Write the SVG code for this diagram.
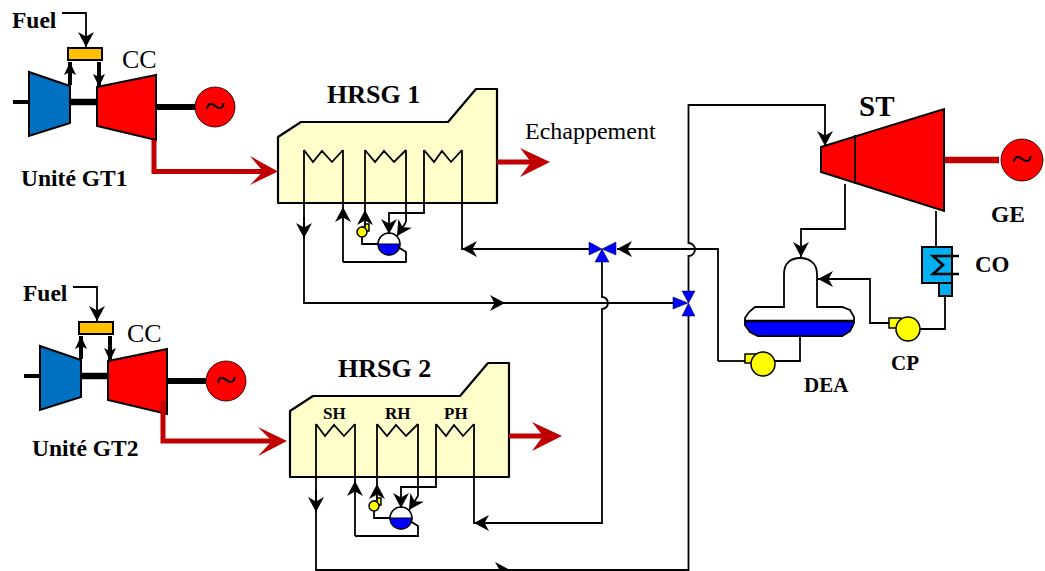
<svg xmlns="http://www.w3.org/2000/svg" width="1045" height="571" viewBox="0 0 1045 571">
<style>
.s{font-family:"Liberation Serif","Times New Roman",serif;fill:#000}
.b{font-weight:bold}
.p{fill:none;stroke:#000;stroke-width:1.8}
.o{stroke:#000;stroke-width:2;stroke-linejoin:miter}
.t{stroke:#000;stroke-width:1.5}
.red{fill:none;stroke:#c00000;stroke-width:5}
.a{marker-end:url(#ah)}
.th{fill:none;stroke:#000;stroke-width:4;marker-end:url(#as)}
.gen{fill:#f00;stroke:#000;stroke-width:.8}
.hr{fill:#ffffcc;stroke:#000;stroke-width:2.2;stroke-linejoin:round}
.tilde{font-size:38px;text-anchor:middle}
</style>
<defs>
<marker id="ah" markerUnits="userSpaceOnUse" markerWidth="18" markerHeight="18" refX="15" refY="9" orient="auto" overflow="visible"><path d="M0,1L15,9L0,17L4.500,9Z" fill="#000"/></marker>
<marker id="as" markerUnits="userSpaceOnUse" markerWidth="14" markerHeight="12" refX="13" refY="6" orient="auto" overflow="visible"><path d="M0,0L13,6L0,12L3,6Z" fill="#000"/></marker>
</defs>

<rect width="1045" height="571" fill="#fff"/>

<g id="gt1">
<path d="M13,102H29" stroke="#000" stroke-width="4"/>
<path d="M70,102H97" stroke="#000" stroke-width="6.5"/>
<path d="M156,107H195" stroke="#000" stroke-width="6"/>
<path class="o" fill="#0070c0" d="M29,72L70,86V123L29,136Z"/>
<path class="o" fill="#f00" d="M97,87L156,75V140L97,126Z"/>
<rect class="o" fill="#ffc000" x="68" y="48" width="34" height="12"/>
<circle class="gen" cx="215" cy="107" r="20"/>
<text class="s tilde" x="215" y="118">~</text>
<text class="s b" x="12" y="28" font-size="23.500">Fuel</text>
<text class="s" x="122" y="68" font-size="26">CC</text>
<text class="s b" x="21" y="186" font-size="23.500">Unité GT1</text>
</g>

<g id="gt2">
<path d="M24,376H40" stroke="#000" stroke-width="4"/>
<path d="M81,376H108" stroke="#000" stroke-width="6.5"/>
<path d="M167,381H206" stroke="#000" stroke-width="6"/>
<path class="o" fill="#0070c0" d="M40,346L81,360V397L40,410Z"/>
<path class="o" fill="#f00" d="M108,361L167,349V414L108,400Z"/>
<rect class="o" fill="#ffc000" x="79" y="322" width="34" height="12"/>
<circle class="gen" cx="226" cy="381" r="20"/>
<text class="s tilde" x="226" y="392">~</text>
<text class="s b" x="23" y="301" font-size="23.500">Fuel</text>
<text class="s" x="127" y="342" font-size="26">CC</text>
<text class="s b" x="32" y="456" font-size="23.500">Unité GT2</text>
</g>

<g id="hrsg1">
<path class="hr" d="M278,137L301,122H448L476,89H497V203H278Z"/>
<text class="s b" x="327" y="103" font-size="26">HRSG 1</text>
<text class="s" x="525" y="139" font-size="24">Echappement</text>
</g>

<g id="hrsg2">
<path class="hr" d="M290,411L313,396H460L488,363H509V477H290Z"/>
<text class="s b" x="338" y="377" font-size="26">HRSG 2</text>
<text class="s b" x="323" y="419" font-size="17">SH</text>
<text class="s b" x="385" y="419" font-size="17">RH</text>
<text class="s b" x="444" y="419" font-size="17">PH</text>
</g>

<g id="drum1">
<circle cx="389" cy="244" r="11" fill="#fff" stroke="#000" stroke-width="1.5"/>
<path d="M378,244A11,11 0 0 0 400,244Z" fill="#00f" stroke="#000" stroke-width="1"/>
<path class="t" fill="#ffff00" d="M362,227h3v-3h4v7h-7z"/>
<circle class="t" fill="#ffff00" cx="362" cy="232" r="5"/>
</g>
<g id="drum2">
<circle cx="401" cy="518" r="11" fill="#fff" stroke="#000" stroke-width="1.5"/>
<path d="M390,518A11,11 0 0 0 412,518Z" fill="#00f" stroke="#000" stroke-width="1"/>
<path class="t" fill="#ffff00" d="M374,501h3v-3h4v7h-7z"/>
<circle class="t" fill="#ffff00" cx="374" cy="506" r="5"/>
</g>

<g id="st">
<path d="M944,160H999" stroke="#c00000" stroke-width="6.500"/>
<path class="o" fill="#f00" d="M821,147L944,109V211L821,172Z"/>
<path d="M855,135V184" stroke="#000" stroke-width="1.8"/>
<circle class="gen" cx="1022" cy="160" r="21"/>
<text class="s tilde" x="1022" y="171">~</text>
<text class="s b" x="859" y="116" font-size="29">ST</text>
<text class="s b" x="991" y="222" font-size="23.500">GE</text>
</g>

<g id="condenser">
<rect class="o" fill="#00b0f0" x="922" y="247" width="30" height="36"/>
<rect class="o" fill="#00b0f0" x="939" y="283" width="13" height="13"/>
<path d="M959,256H933L943,265L933,274H959" fill="none" stroke="#000" stroke-width="2.600"/>
<text class="s b" x="975" y="272" font-size="23">CO</text>
</g>

<g id="cp">
<rect class="t" fill="#ffff00" x="889" y="318" width="12" height="10"/>
<circle class="t" fill="#ffff00" cx="908" cy="329" r="12"/>
<text class="s b" x="891" y="370" font-size="21">CP</text>
</g>

<g id="dea">
<path d="M784,307V274C784,263 791,258 800,258C809,258 817,263 817,274V307H842L850,310L854,317V323L850,331L842,336H758L750,332L745,325V318L749,312L755,307Z" fill="#fff" stroke="#000" stroke-width="1.8"/>
<path d="M745,321H854V323L850,331L842,336H758L750,332L745,325Z" fill="#00f" stroke="#000" stroke-width="1.5"/>
<path d="M745,321H854" stroke="#000" stroke-width="2.500"/>
<text class="s b" x="804" y="392" font-size="21">DEA</text>
</g>

<g id="feed-pump">
<rect class="t" fill="#ffff00" x="745" y="354" width="12" height="9"/>
<circle class="t" fill="#ffff00" cx="763" cy="364" r="12"/>
</g>

<g id="valve1">
<path fill="#00f" stroke="#000" stroke-width=".5" d="M589,242L602,249L589,255ZM616,242L602,249L616,255ZM602,249L595,262H609Z"/>
</g>
<g id="valve2">
<path fill="#00f" stroke="#000" stroke-width=".5" d="M682,291H695L688.500,303ZM688.500,303L682,316H695ZM673,297L688,303L673,309Z"/>
</g>

<g id="connectors">
<path class="p a" d="M62,13H86V47"/>
<path class="th" d="M70,85V62"/>
<path class="th" d="M99,62V87"/>
<path class="p a" d="M73,287H97V321"/>
<path class="th" d="M81,359V336"/>
<path class="th" d="M110,336V361"/>
<path class="red" d="M154,140V171.500H268"/>
<path fill="#c00000" d="M278,171.500L250,156L263,171.500L250,185Z"/>
<path class="red" d="M163,401V441H277"/>
<path fill="#c00000" d="M287,441L258,427L272,441L258,456Z"/>
<path class="red" d="M497,162H535"/>
<path fill="#c00000" d="M550,162L520,148L531,162L520,177Z"/>
<path class="red" d="M509,436H547"/>
<path fill="#c00000" d="M562,436L532,422L543,436L532,451Z"/>

<path class="p" d="M304,150L313,162L322,151L332,162L343,150M365,150L375,162L384,151L394,162L406,150M424,150L434,162L442,151L451,162L462,150"/>
<path class="p" d="M343,150V207"/>
<path class="p" d="M365,150V210"/>
<path class="p a" d="M343,262V207"/>
<path class="p a" d="M365,226V210"/>
<path class="p" d="M343,262H406V252L398,247"/>
<path class="p" d="M362,237V244H378"/>
<path class="p" d="M406,150V222"/>
<path class="p a" d="M406,222L397,236"/>
<path class="p a" d="M424,150V213H389V234"/>

<path class="p" d="M316,424L325,436L334,425L344,436L355,424M377,424L387,436L396,425L406,436L418,424M436,424L446,436L454,425L463,436L474,424"/>
<path class="p" d="M355,424V481"/>
<path class="p" d="M377,424V484"/>
<path class="p a" d="M355,536V481"/>
<path class="p a" d="M377,500V484"/>
<path class="p" d="M355,536H418V526L410,521"/>
<path class="p" d="M374,511V518H390"/>
<path class="p" d="M418,424V496"/>
<path class="p a" d="M418,496L409,510"/>
<path class="p a" d="M436,424V487H401V508"/>

<path class="p" d="M304,150V303H673"/>
<path class="p a" d="M304,215V238"/>
<path class="p a" d="M490,303H505"/>
<path class="p" d="M316,424V570H688.500V316"/>
<path class="p a" d="M316,490V512"/>
<path class="p a" d="M495,570H510"/>
<path class="p" d="M462,150V249H589"/>
<path class="p a" d="M480,249H462"/>
<path class="p" d="M474,424V523H602V309A6,6 0 0 0 602,297V262"/>
<path class="p a" d="M492,523H474"/>
<path class="p a" d="M718,361V249H617"/>
<path class="p a" d="M688.500,291V256A6.500,6.500 0 0 0 688.500,243V105H825V146"/>
<path class="p" d="M745,361H718"/>
<path class="p" d="M775,361H800V336"/>
<path class="p a" d="M845,184V229H801V257"/>
<path class="p" d="M936,211V247"/>
<path class="p" d="M945,296V329H920"/>
<path class="p a" d="M889,323H870V279H818"/>
</g>
</svg>
